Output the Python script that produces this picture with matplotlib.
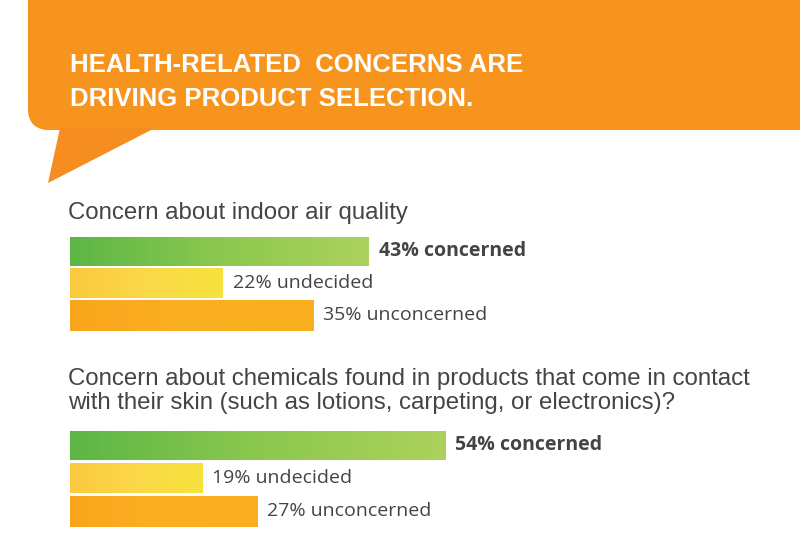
import matplotlib
matplotlib.use("Agg")
import matplotlib.pyplot as plt
import numpy as np
from matplotlib.patches import FancyBboxPatch, Polygon
from matplotlib.colors import LinearSegmentedColormap

questions = [
    "Concern about indoor air quality",
    "Concern about chemicals found in products that come in contact\nwith their skin (such as lotions, carpeting, or electronics)?",
]
categories = ["concerned", "undecided", "unconcerned"]
values = [[43, 22, 35], [54, 19, 27]]

W, H = 800, 553
fig = plt.figure(figsize=(W / 100, H / 100), dpi=100)
bg = fig.add_axes([0, 0, 1, 1])
bg.set_xlim(0, W)
bg.set_ylim(H, 0)
bg.axis("off")

# orange banner with speech tail
banner = FancyBboxPatch((28, -40), 820, 170, boxstyle="round,pad=0,rounding_size=22",
                        fc="#f7941e", ec="none")
bg.add_patch(banner)
grad = np.linspace(0, 1, 256).reshape(1, -1)
bcmap = LinearSegmentedColormap.from_list("b", ["#f58a1f", "#f89c2a", "#f7a236"])
im = bg.imshow(grad, cmap=bcmap, extent=(28, 848, 130, -40), aspect="auto")
im.set_clip_path(banner)
bg.add_patch(Polygon([(60, 128), (48, 183), (155, 128)], closed=True, fc="#f68d20", ec="none"))
for y, line in [(65, "HEALTH-RELATED  CONCERNS ARE"), (99, "DRIVING PRODUCT SELECTION.")]:
    bg.text(70, y, line, color="white", fontsize=18.5, fontweight="bold",
            family="Liberation Sans", va="center")

bg.text(68, 213, questions[0], fontsize=17.3, color="#444444", family="Liberation Sans", va="center")
bg.text(68, 391, questions[1], fontsize=17.3, color="#444444", family="Liberation Sans", va="center",
        linespacing=1.15)

# bar axes: x in percent, y in pixels
bx = fig.add_axes([70 / W, 0, 695 / W, 1])
bx.set_xlim(0, 100)
bx.set_ylim(H, 0)
bx.axis("off")
bx.patch.set_alpha(0)

cmaps = [
    LinearSegmentedColormap.from_list("g", ["#5cb646", "#8cc84f", "#acd25c"]),
    LinearSegmentedColormap.from_list("y", ["#fcc93e", "#fbd84a", "#f7e33c"]),
    LinearSegmentedColormap.from_list("o", ["#f9a51c", "#fbb023", "#f9ae1f"]),
]
tops = [[237, 268, 300], [431, 463, 496]]
heights = [29, 30, 31]
for g in range(2):
    for i, cat in enumerate(categories):
        v = values[g][i]
        y0 = tops[g][i]
        h = heights[i]
        bar = bx.barh(y0 + h / 2, v, height=h, left=0, color="none", edgecolor="none")[0]
        gi = bx.imshow(grad, cmap=cmaps[i], extent=(0, v, y0 + h, y0), aspect="auto")
        gi.set_clip_path(bar)
        bx.text(v + 1.4, y0 + h / 2, f"{v}% {cat}", fontsize=14, color="#444444",
                family="Open Sans", fontweight="bold" if i == 0 else "normal", va="center")

fig.savefig("out.png", dpi=100)
